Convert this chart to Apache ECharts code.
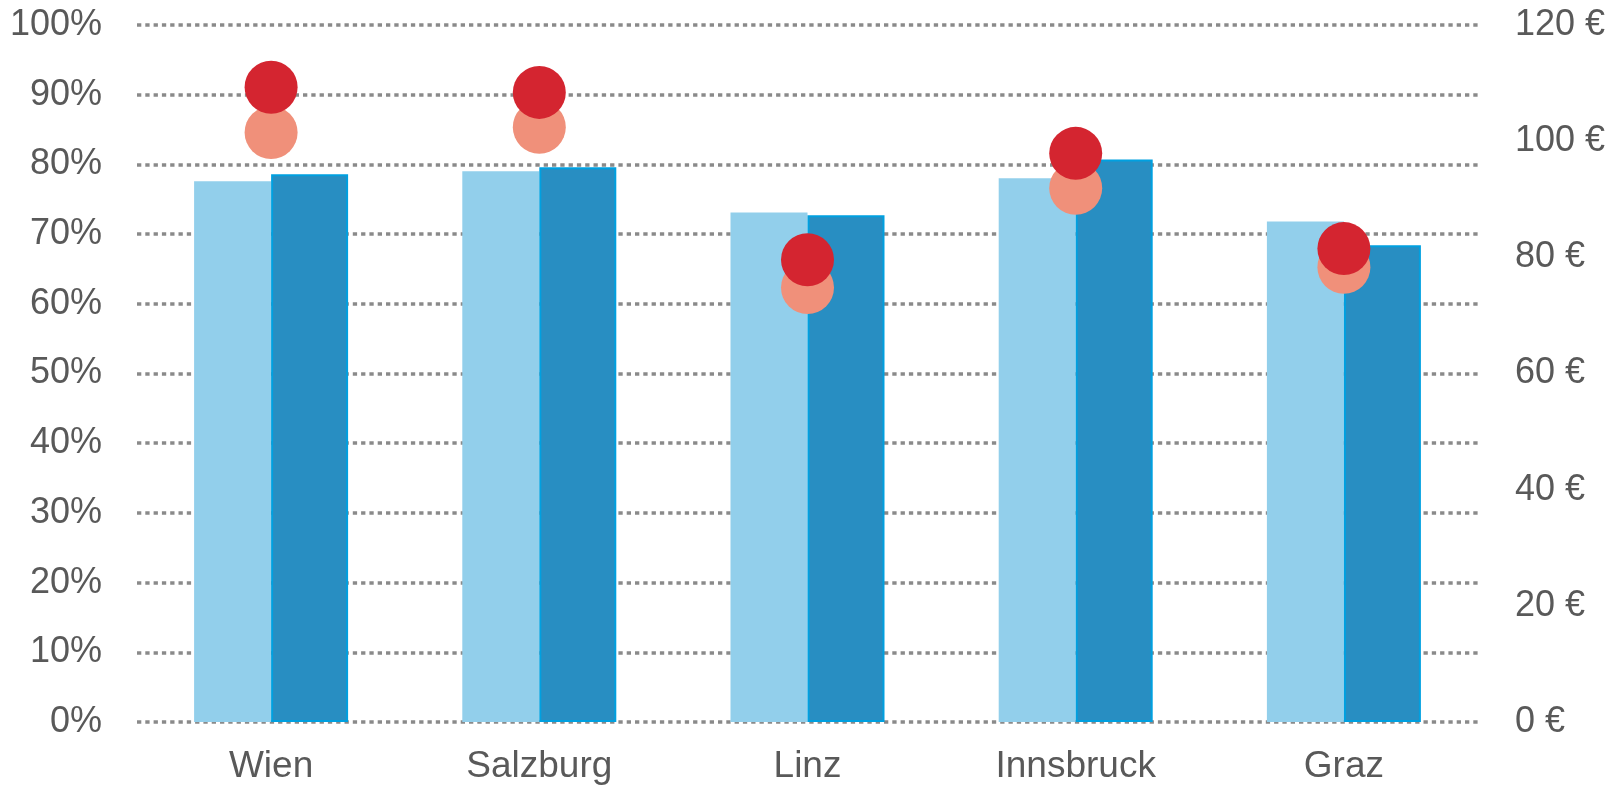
<!DOCTYPE html>
<html>
<head>
<meta charset="utf-8">
<script src="https://cdn.jsdelivr.net/npm/echarts@6/dist/echarts.min.js"></script>
<style>
  html, body { margin: 0; padding: 0; background: #fff; }
  #chart { width: 1618px; height: 785px; }
</style>
</head>
<body>
<div id="chart"></div>
<script>
// Daten
const cities = ['Wien', 'Salzburg', 'Linz', 'Innsbruck', 'Graz']
const shareLight = [77.6, 79.0, 73.1, 78.0, 71.8]   // % (linke Achse)
const shareDark = [78.6, 79.6, 72.7, 80.7, 68.4]    // % (linke Achse)
const priceLight = [101.5, 102.4, 74.8, 91.9, 78.3] // € (rechte Achse)
const priceDark = [109.3, 108.4, 79.6, 97.9, 81.5]  // € (rechte Achse)

let myChart = echarts.init(document.getElementById('chart'))

const labelFont = {
  color: '#595959',
  fontFamily: 'Liberation Sans, Arial, sans-serif',
  fontSize: 36
}

myChart.setOption({
  animation: false,
  grid: {
    left: 137,
    right: 140,
    top: 25,
    bottom: 63
  },
  xAxis: {
    type: 'category',
    data: cities,
    axisLine: { show: false },
    axisTick: { show: false },
    axisLabel: Object.assign({}, labelFont, { fontSize: 37, margin: 26 })
  },
  yAxis: [
    {
      type: 'value',
      min: 0,
      max: 100,
      interval: 10,
      axisLine: { show: false },
      axisTick: { show: false },
      axisLabel: Object.assign({}, labelFont, { formatter: '{value}%', margin: 35 }),
      splitLine: {
        lineStyle: { color: '#8a8a8a', width: 3.5, type: [4.3, 4] }
      }
    },
    {
      type: 'value',
      min: 0,
      max: 120,
      interval: 20,
      axisLine: { show: false },
      axisTick: { show: false },
      axisLabel: Object.assign({}, labelFont, { formatter: '{value} €', margin: 37 }),
      splitLine: { show: false }
    }
  ],
  series: [
    {
      type: 'bar',
      data: shareLight,
      barWidth: 77,
      barGap: '0%',
      itemStyle: { color: '#92cfeb' },
      z: 2
    },
    {
      type: 'bar',
      data: shareDark,
      barWidth: 77,
      itemStyle: { color: '#288ec2', borderColor: '#00a0e0', borderWidth: 2 },
      z: 2
    },
    {
      type: 'scatter',
      yAxisIndex: 1,
      data: priceLight,
      symbolSize: 53,
      itemStyle: { color: '#f0907a', opacity: 1 },
      z: 3
    },
    {
      type: 'scatter',
      yAxisIndex: 1,
      data: priceDark,
      symbolSize: 53,
      itemStyle: { color: '#d42530', opacity: 1 },
      z: 4
    }
  ]
})
</script>
</body>
</html>
